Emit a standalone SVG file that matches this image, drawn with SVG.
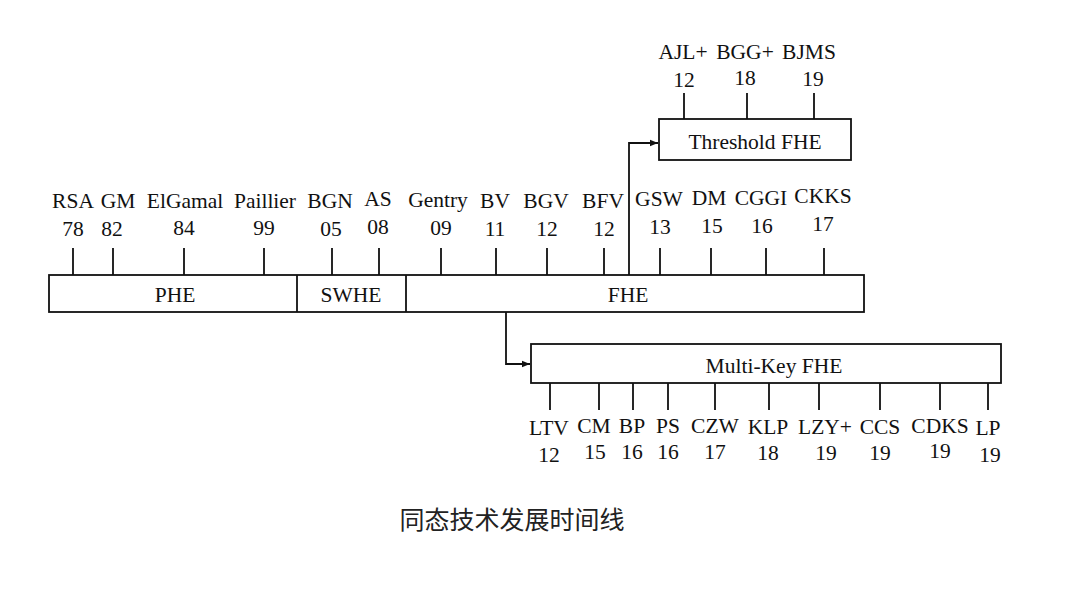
<svg xmlns="http://www.w3.org/2000/svg" width="1073" height="592" viewBox="0 0 1073 592">
<style>
text{font-family:"Liberation Serif","Times New Roman",serif;font-size:21.5px;fill:#111;text-anchor:middle}
.cap{font-family:"Noto Sans CJK SC","Noto Sans",sans-serif;font-size:25px;fill:#222}
.box{fill:#fff;stroke:#111;stroke-width:1.8}
.tick{stroke:#111;stroke-width:1.8;fill:none}
.conn{stroke:#111;stroke-width:1.8;fill:none}
</style>
<defs>
<marker id="arr" viewBox="0 0 10 10" refX="10" refY="5" markerWidth="8" markerHeight="8" orient="auto" markerUnits="userSpaceOnUse">
<path d="M0,1 L10,5 L0,9 z" fill="#111"/>
</marker>
</defs>
<rect width="1073" height="592" fill="#fff"/>

<g id="connectors">
<path class="conn" d="M629,275 V143 H658" marker-end="url(#arr)"/>
<path class="conn" d="M506,312 V364 H530" marker-end="url(#arr)"/>
</g>

<g id="main-bar">
<rect class="box" x="49" y="275" width="815" height="37"/>
<line class="tick" x1="297" y1="275" x2="297" y2="312"/>
<line class="tick" x1="406" y1="275" x2="406" y2="312"/>
<text x="175" y="302">PHE</text>
<text x="351" y="302">SWHE</text>
<text x="628" y="302">FHE</text>
</g>

<g id="top-ticks">
<path class="tick" d="M73,248V275M113,248V275M184,248V275M264,248V275M332,248V275M379,248V275M441,248V275M496,248V275M547,248V275M604,248V275M660,248V275M711,248V275M766,248V275M824,248V275"/>
</g>

<g id="top-labels">
<text x="73" y="208">RSA</text><text x="73" y="236">78</text>
<text x="118" y="208">GM</text><text x="112" y="236">82</text>
<text x="185" y="208">ElGamal</text><text x="184" y="235">84</text>
<text x="265" y="208">Paillier</text><text x="264" y="235">99</text>
<text x="330" y="208">BGN</text><text x="331" y="236">05</text>
<text x="378" y="206">AS</text><text x="378" y="234">08</text>
<text x="438" y="207">Gentry</text><text x="441" y="235">09</text>
<text x="495" y="208">BV</text><text x="495" y="236">11</text>
<text x="546" y="208">BGV</text><text x="547" y="236">12</text>
<text x="603" y="208">BFV</text><text x="604" y="236">12</text>
<text x="659" y="206">GSW</text><text x="660" y="234">13</text>
<text x="709" y="205">DM</text><text x="712" y="233">15</text>
<text x="761" y="205">CGGI</text><text x="762" y="233">16</text>
<text x="823" y="203">CKKS</text><text x="823" y="231">17</text>
</g>

<g id="threshold-fhe">
<rect class="box" x="659" y="119" width="192" height="41"/>
<text x="755" y="149">Threshold FHE</text>
<path class="tick" d="M684,93V119M747,93V119M814,93V119"/>
<text x="683" y="59">AJL+</text><text x="684" y="87">12</text>
<text x="745" y="59">BGG+</text><text x="745" y="85">18</text>
<text x="809" y="59">BJMS</text><text x="813" y="86">19</text>
</g>

<g id="multikey-fhe">
<rect class="box" x="531" y="344" width="470" height="39"/>
<text x="774" y="373">Multi-Key FHE</text>
<path class="tick" d="M550,383V410M599,383V410M633,383V410M668,383V410M715,383V410M769,383V410M819,383V410M880,383V410M940,383V410M988,383V410"/>
<text x="549" y="435">LTV</text><text x="549" y="462">12</text>
<text x="594" y="433">CM</text><text x="595" y="459">15</text>
<text x="632" y="433">BP</text><text x="632" y="459">16</text>
<text x="668" y="433">PS</text><text x="668" y="459">16</text>
<text x="715" y="433">CZW</text><text x="715" y="459">17</text>
<text x="768" y="434">KLP</text><text x="768" y="460">18</text>
<text x="825" y="434">LZY+</text><text x="826" y="460">19</text>
<text x="880" y="434">CCS</text><text x="880" y="460">19</text>
<text x="940" y="433">CDKS</text><text x="940" y="458">19</text>
<text x="988" y="435">LP</text><text x="990" y="462">19</text>
</g>

<text class="cap" x="512" y="529">同态技术发展时间线</text>
</svg>
